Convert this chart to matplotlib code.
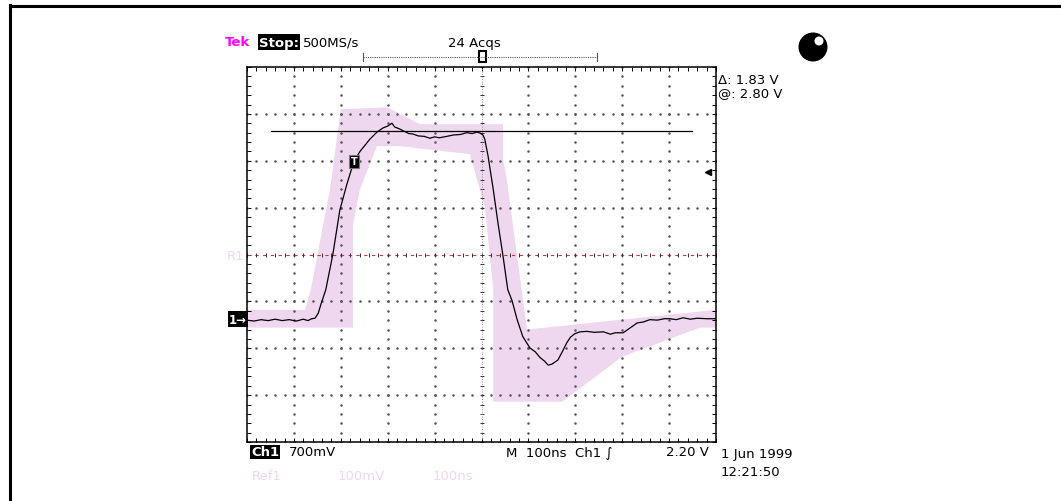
import numpy as np
import matplotlib
matplotlib.use('Agg')
import matplotlib.pyplot as plt
from matplotlib.patches import Polygon, Ellipse, Rectangle

# trace (Ch1), in screen divisions: x 0..10, y -4..4
trace_x = [0.0, 0.15, 0.3, 0.45, 0.6, 0.75, 0.9, 1.05, 1.2, 1.3, 1.38, 1.45, 1.52, 1.58,
           1.68, 1.83, 1.98, 2.13, 2.28, 2.41, 2.62, 2.77, 2.9, 3.0, 3.09, 3.15, 3.25, 3.33,
           3.45, 3.54, 3.65, 3.78, 3.9, 4.0, 4.1, 4.26, 4.4, 4.55, 4.69, 4.8, 4.9, 4.97,
           5.03, 5.07, 5.14, 5.25, 5.35, 5.46, 5.56, 5.65, 5.76, 5.88, 6.03, 6.15, 6.25,
           6.35, 6.42, 6.5, 6.63, 6.72, 6.82, 6.9, 6.99, 7.1, 7.25, 7.4, 7.6, 7.75, 7.85,
           8.02, 8.15, 8.32, 8.45, 8.59, 8.75, 8.9, 9.02, 9.15, 9.3, 9.45, 9.6, 9.8, 10.0]
trace_y = [-1.40, -1.42, -1.39, -1.41, -1.38, -1.41, -1.39, -1.42, -1.38, -1.41, -1.37,
           -1.36, -1.25, -1.05, -0.75, 0.0, 0.95, 1.50, 1.99, 2.20, 2.46, 2.61, 2.70, 2.74,
           2.80, 2.72, 2.68, 2.64, 2.58, 2.57, 2.53, 2.52, 2.48, 2.51, 2.49, 2.52, 2.55,
           2.56, 2.60, 2.58, 2.61, 2.59, 2.55, 2.46, 2.10, 1.39, 0.68, -0.04, -0.75, -0.98,
           -1.39, -1.75, -1.99, -2.08, -2.20, -2.28, -2.36, -2.34, -2.25, -2.08, -1.88,
           -1.76, -1.69, -1.65, -1.64, -1.66, -1.65, -1.70, -1.67, -1.67, -1.58, -1.46,
           -1.44, -1.39, -1.40, -1.37, -1.37, -1.39, -1.35, -1.38, -1.36, -1.37, -1.37]

# Ref1 envelope outline
env_x = [0.0, 1.24, 1.36, 1.77, 2.00, 2.99, 3.69, 5.46, 5.46, 5.54, 5.97, 10.0, 10.0,
         9.66, 8.0, 6.72, 5.25, 5.25, 5.07, 4.75, 3.26, 2.77, 2.41, 2.26, 2.26, 0.0]
env_y = [-1.18, -1.18, -0.75, 1.39, 3.10, 3.14, 2.78, 2.78, 2.03, 1.60, -1.60, -1.18,
         -1.56, -1.56, -2.18, -3.14, -3.14, -0.75, 1.03, 2.14, 2.31, 2.31, 1.39, 0.64,
         -1.56, -1.56]

cursor_y = 2.63
cursor_x = [0.51, 9.49]
trig_level = 1.75
trig_mark = (2.28, 1.99)

W, H = 1061, 502
fig = plt.figure(figsize=(W / 100, H / 100), dpi=100)
fig.patch.set_facecolor('white')


def px(x, y):
    return x / W, 1 - y / H


# outer frame (only top and left visible)
fig.add_artist(plt.Line2D([9.5 / W, 1.0], [1 - 6.5 / H, 1 - 6.5 / H], color='black', lw=2.2))
fig.add_artist(plt.Line2D([9.5 / W, 9.5 / W], [0.0, 1 - 5.5 / H], color='black', lw=2.2))

l, t, r, b = 247, 68, 716, 443
ax = fig.add_axes([l / W, 1 - b / H, (r - l) / W, (b - t) / H])
ax.set_xlim(0, 10)
ax.set_ylim(-4, 4)
for s in ax.spines.values():
    s.set_linewidth(1.1)
ax.set_xticks(np.arange(0, 10.01, 0.2))
ax.set_yticks(np.arange(-4, 4.01, 0.2))
ax.tick_params(direction='in', length=3, width=0.7, top=True, right=True,
               labelbottom=False, labelleft=False)

ax.add_patch(Polygon(np.column_stack([env_x, env_y]), closed=True,
                     facecolor='#f0d7f0', edgecolor='none', zorder=1))

# graticule dots
minor = np.arange(0, 10.01, 0.2)
minor_y = np.arange(-4, 4.01, 0.2)
for gx in range(1, 10):
    if gx == 5:
        continue
    ax.plot(np.full(len(minor_y), gx), minor_y, ls='none', marker='s', ms=0.75,
            color='#555555', zorder=2)
for gy in range(-3, 4):
    if gy == 0:
        continue
    ax.plot(minor, np.full(len(minor), gy), ls='none', marker='s', ms=0.75,
            color='#555555', zorder=2)

# center cross with ticks
ax.plot([0, 10], [0, 0], color='#b04040', lw=0.8, dashes=(3, 4), zorder=2)
ax.plot(minor, np.zeros(len(minor)), ls='none', marker='|', ms=3.5, mew=0.7,
        color='#333333', zorder=2)
ax.plot(np.full(len(minor_y), 5), minor_y, ls='none', marker='_', ms=3.5, mew=0.7,
        color='#333333', zorder=2)
ax.plot([5, 5], [-4, 4], color='#777777', lw=0.6, ls=(0, (1, 2)), zorder=2)

ax.plot(cursor_x, [cursor_y, cursor_y], color='black', lw=0.9, zorder=3)
ax.plot(trace_x, trace_y, color='black', lw=0.9, zorder=4)

# trigger point marker
ax.text(trig_mark[0], trig_mark[1], 'T', color='white', fontsize=7, fontweight='bold',
        ha='center', va='center', zorder=5,
        bbox=dict(facecolor='black', edgecolor='#777777', pad=1.2, lw=0.8))
ax.plot([9.82], [trig_level], marker='<', ms=5, color='black', zorder=5)

fs = 9.5
# header
fig.text(*px(225, 43), 'Tek', color='#ff00ff', fontsize=fs, fontweight='bold', va='center')
fig.text(*px(259, 43), 'Stop:', color='white', fontsize=fs, fontweight='bold', va='center',
         bbox=dict(facecolor='black', edgecolor='none', pad=0.8))
fig.text(*px(303, 43), '500MS/s', color='black', fontsize=fs, va='center')
fig.text(*px(448, 43), '24 Acqs', color='black', fontsize=fs, va='center')
fig.add_artist(plt.Line2D([363 / W, 597 / W], [1 - 58 / H] * 2, color='#555555', lw=0.8,
                          ls=(0, (1, 1))))
for xe in (363, 597):
    fig.add_artist(plt.Line2D([xe / W] * 2, [1 - 54 / H, 1 - 62 / H], color='#555555', lw=0.8))
fig.add_artist(Rectangle(px(479, 63), 7 / W, 11 / H, facecolor='white', edgecolor='black',
                         lw=1.5, transform=fig.transFigure))

# knob
fig.add_artist(Ellipse(px(813, 48), 29 / W, 29 / H, transform=fig.transFigure,
                       facecolor='black'))
fig.add_artist(Ellipse(px(819, 42), 9 / W, 9 / H, transform=fig.transFigure,
                       facecolor='white'))

# cursor readout
fig.text(*px(718, 80), '\u0394: 1.83 V', color='black', fontsize=fs, va='center')
fig.text(*px(718, 94), '@: 2.80 V', color='black', fontsize=fs, va='center')

# left markers
fig.text(*px(227, 256), 'R1', color='#f0d7f0', fontsize=fs, va='center')
fig.text(*px(229, 320), '1\u2192', color='white', fontsize=8.5, fontweight='bold', va='center',
         bbox=dict(facecolor='black', edgecolor='none', pad=0.8))

# bottom readout
fig.text(*px(251, 453), 'Ch1', color='white', fontsize=fs, fontweight='bold', va='center',
         bbox=dict(facecolor='black', edgecolor='none', pad=0.5))
fig.text(*px(289, 453), '700mV', color='black', fontsize=fs, va='center')
fig.text(*px(506, 453), 'M  100ns  Ch1 \u222b', color='black', fontsize=fs, va='center')
fig.text(*px(709, 453), '2.20 V', color='black', fontsize=fs, va='center', ha='right')
fig.text(*px(721, 455), '1 Jun 1999', color='black', fontsize=fs, va='center')
fig.text(*px(721, 473), '12:21:50', color='black', fontsize=fs, va='center')
fig.text(*px(252, 477), 'Ref1', color='#f0d7f0', fontsize=fs, va='center')
fig.text(*px(338, 477), '100mV', color='#f0d7f0', fontsize=fs, va='center')
fig.text(*px(433, 477), '100ns', color='#f0d7f0', fontsize=fs, va='center')

fig.savefig('out.png', dpi=100)
